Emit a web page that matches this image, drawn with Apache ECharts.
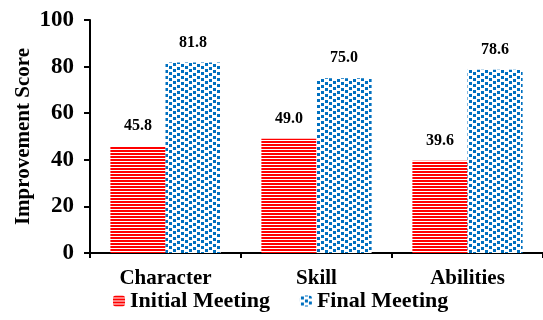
<!DOCTYPE html>
<html><head><meta charset="utf-8">
<script src="https://cdn.jsdelivr.net/npm/echarts@6/dist/echarts.min.js"></script>
<style>html,body{margin:0;padding:0;background:#fff}#c{width:543px;height:320px}</style>
</head><body><div id="c"></div>
<script>
const categories = ['Character', 'Skill', 'Abilities'];
const initialMeeting = [45.8, 49.0, 39.6];
const finalMeeting = [81.8, 75.0, 78.6];
const yTicks = [0, 20, 40, 60, 80, 100];

function redPattern() {
  const c = document.createElement('canvas'); c.width = 4; c.height = 3;
  const g = c.getContext('2d');
  g.fillStyle = '#fff'; g.fillRect(0, 0, 4, 3);
  g.fillStyle = '#ff0000'; g.fillRect(0, 0, 4, 2);
  return c;
}
function bluePattern() {
  const c = document.createElement('canvas'); c.width = 16; c.height = 12;
  const g = c.getContext('2d');
  g.fillStyle = '#fff'; g.fillRect(0, 0, 16, 12);
  g.fillStyle = '#0070c0';
  [[1,1],[9,0],[5,4],[13,3],[1,7],[9,6],[5,10],[13,9]].forEach(p => {
    g.fillRect(p[0], p[1], 3, 3);
    if (p[1] + 3 > 12) g.fillRect(p[0], p[1] - 12, 3, 3);
  });
  return c;
}
const redImg = redPattern(), blueImg = bluePattern();
const font = '"Liberation Serif", "Times New Roman", serif';

const chart = echarts.init(document.getElementById('c'), null, {renderer: 'canvas'});
chart.setOption({
  animation: false,
  textStyle: {fontFamily: font},
  grid: {left: 90, right: -6, top: 20, bottom: 67, containLabel: false},
  legend: {
    bottom: 3, left: 108, itemGap: 30, itemWidth: 12, itemHeight: 11,
    textStyle: {fontFamily: font, fontWeight: 'bold', fontSize: 22, color: '#000'},
    data: ['Initial Meeting', 'Final Meeting']
  },
  xAxis: {
    type: 'category', data: categories,
    axisLine: {lineStyle: {color: '#000', width: 2}},
    axisTick: {show: true, length: 5, lineStyle: {color: '#000', width: 2}},
    axisLabel: {fontFamily: font, fontWeight: 'bold', fontSize: 21, color: '#000', margin: 15}
  },
  yAxis: {
    type: 'value', min: 0, max: 100, interval: 20,
    name: 'Improvement Score', nameLocation: 'middle', nameGap: 56, nameMoveOverlap: false,
    nameTextStyle: {fontFamily: font, fontWeight: 'bold', fontSize: 21, color: '#000'},
    axisLine: {show: true, lineStyle: {color: '#000', width: 2}},
    axisTick: {show: true, length: 6, lineStyle: {color: '#000', width: 2}},
    splitLine: {show: false},
    axisLabel: {fontFamily: font, fontWeight: 'bold', fontSize: 23, color: '#000', margin: 16,
      formatter: v => yTicks.includes(v) ? String(v) : ''}
  },
  series: [
    {
      name: 'Initial Meeting', type: 'bar', data: initialMeeting,
      barGap: '0%', barCategoryGap: '27%',
      itemStyle: {color: {image: redImg, repeat: 'repeat'}},
      label: {show: true, position: 'top', distance: 12, formatter: p => p.value.toFixed(1),
        fontFamily: font, fontWeight: 'bold', fontSize: 16, color: '#000'}
    },
    {
      name: 'Final Meeting', type: 'bar', data: finalMeeting,
      itemStyle: {color: {image: blueImg, repeat: 'repeat'}},
      label: {show: true, position: 'top', distance: 12, formatter: p => p.value.toFixed(1),
        fontFamily: font, fontWeight: 'bold', fontSize: 16, color: '#000'}
    }
  ]
});
</script></body></html>
